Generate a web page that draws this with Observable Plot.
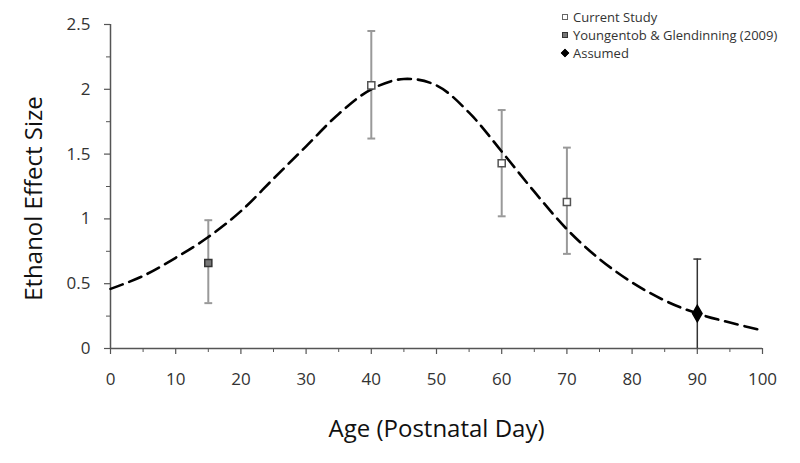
<!DOCTYPE html>
<html>
<head>
<meta charset="utf-8">
<script src="https://cdn.jsdelivr.net/npm/d3@7"></script>
<script src="https://cdn.jsdelivr.net/npm/@observablehq/plot@0.6"></script>
<style>
  html, body { margin: 0; padding: 0; background: #fff; }
  #wrap { position: relative; width: 800px; height: 463px; font-family: "Open Sans", "DejaVu Sans", sans-serif; }
  #legend { position: absolute; left: 562px; top: 8px; font-size: 13px; color: #333; line-height: 18px; }
  #legend .row { display: flex; align-items: center; white-space: nowrap; }
  #legend .sw { display: inline-block; width: 6px; height: 6px; margin-right: 5px; box-sizing: border-box; }
</style>
</head>
<body>
<div id="wrap">
  <div id="chart"></div>
  <div id="legend"></div>
</div>
<script>
// Series labels
const seriesNames = ["Current Study", "Youngentob & Glendinning (2009)", "Assumed"];

// Data points (age, effect size, lower/upper error)
const currentAge = [40, 60, 70];
const currentVal = [2.03, 1.43, 1.13];
const currentLo = [1.62, 1.02, 0.73];
const currentHi = [2.45, 1.84, 1.55];

const youngAge = [15];
const youngVal = [0.66];
const youngLo = [0.35];
const youngHi = [0.99];

const assumedAge = [90];
const assumedVal = [0.27];
const assumedLo = [0.0];
const assumedHi = [0.69];

// Dashed fitted curve
const curveAge = [0, 5, 10, 15, 20, 25, 30, 35, 40, 45, 50, 55, 60, 65, 70, 75, 80, 85, 90, 95, 100];
const curveVal = [0.46, 0.56, 0.70, 0.86, 1.06, 1.31, 1.56, 1.81, 2.00, 2.08, 2.03, 1.82, 1.52, 1.21, 0.92, 0.69, 0.51, 0.37, 0.27, 0.20, 0.14];

// Tick labels
const xTicks = [0, 10, 20, 30, 40, 50, 60, 70, 80, 90, 100];
const xMinor = [5, 15, 25, 35, 45, 55, 65, 75, 85, 95];
const yTicks = [0, 0.5, 1, 1.5, 2, 2.5];
const yMinor = [0.25, 0.75, 1.25, 1.75, 2.25];

const mk = (ages, vals, los, his, s) => ages.map((a, i) => ({age: a, val: vals[i], lo: los[i], hi: his[i], series: s}));
const current = mk(currentAge, currentVal, currentLo, currentHi, seriesNames[0]);
const young = mk(youngAge, youngVal, youngLo, youngHi, seriesNames[1]);
const assumed = mk(assumedAge, assumedVal, assumedLo, assumedHi, seriesNames[2]);
const allPts = [...current, ...young];
const curve = curveAge.map((a, i) => ({age: a, val: curveVal[i]}));

const capHalf = 0.6;
const axisColor = "#555";

const chart = Plot.plot({
  width: 800,
  height: 463,
  marginLeft: 110,
  marginRight: 38,
  marginTop: 24,
  marginBottom: 115,
  style: {fontFamily: "'Open Sans', 'DejaVu Sans', sans-serif", background: "#fff", color: "#333"},
  x: {domain: [0, 100]},
  y: {domain: [0, 2.5]},
  marks: [
    // axis lines
    Plot.ruleY([0], {stroke: axisColor, strokeWidth: 1.5}),
    Plot.ruleX([0], {stroke: axisColor, strokeWidth: 1.5}),
    // axes
    Plot.axisX({ticks: xTicks, tickSize: 6, tickPadding: 18, fontSize: 17, label: null, stroke: axisColor, strokeWidth: 1.2}),
    Plot.axisX({ticks: xMinor, tickSize: 4, text: null, label: null, stroke: axisColor, strokeWidth: 1}),
    Plot.axisY({ticks: yTicks, tickSize: 6, tickPadding: 14, fontSize: 17, label: null, tickFormat: d => String(d), stroke: axisColor, strokeWidth: 1.2}),
    Plot.axisY({ticks: yMinor, tickSize: 4, text: null, label: null, stroke: axisColor, strokeWidth: 1}),
    // axis titles
    Plot.text(["Ethanol Effect Size"], {frameAnchor: "left", textAnchor: "middle", dx: -76, dy: 12, rotate: -90, fontSize: 24, fill: "#111"}),
    Plot.text(["Age (Postnatal Day)"], {frameAnchor: "bottom", textAnchor: "middle", dy: 88, fontSize: 24, fill: "#111"}),
    // error bars
    Plot.ruleX(allPts, {x: "age", y1: "lo", y2: "hi", stroke: "#999", strokeWidth: 2}),
    Plot.link(allPts, {x1: d => d.age - capHalf, x2: d => d.age + capHalf, y1: "hi", y2: "hi", stroke: "#999", strokeWidth: 2}),
    Plot.link(allPts, {x1: d => d.age - capHalf, x2: d => d.age + capHalf, y1: "lo", y2: "lo", stroke: "#999", strokeWidth: 2}),
    Plot.ruleX(assumed, {x: "age", y1: "lo", y2: "hi", stroke: "#333", strokeWidth: 1.5}),
    Plot.link(assumed, {x1: d => d.age - capHalf, x2: d => d.age + capHalf, y1: "hi", y2: "hi", stroke: "#333", strokeWidth: 1.5}),
    // dashed curve
    Plot.line(curve, {x: "age", y: "val", curve: "catmull-rom", stroke: "#000", strokeWidth: 2.6, strokeDasharray: "13,7"}),
    // markers
    Plot.dot(current, {x: "age", y: "val", symbol: "square", r: 4, fill: "#fff", stroke: "#555", strokeWidth: 1.5}),
    Plot.dot(young, {x: "age", y: "val", symbol: "square", r: 4, fill: "#777", stroke: "#333", strokeWidth: 1.5}),
    Plot.dot(assumed, {x: "age", y: "val", symbol: "diamond", r: 5, fill: "#000", stroke: "#000"})
  ]
});
document.getElementById("chart").appendChild(chart);

// Legend
const legendStyles = [
  {bg: "#fff", border: "1.2px solid #666"},
  {bg: "#777", border: "1.2px solid #333"},
  {bg: "#000", border: "1.2px solid #000", diamond: true}
];
const legend = document.getElementById("legend");
seriesNames.forEach((name, i) => {
  const row = document.createElement("div");
  row.className = "row";
  const sw = document.createElement("span");
  sw.className = "sw";
  sw.style.background = legendStyles[i].bg;
  sw.style.border = legendStyles[i].border;
  if (legendStyles[i].diamond) sw.style.transform = "rotate(45deg)";
  row.appendChild(sw);
  const t = document.createElement("span");
  t.textContent = name;
  row.appendChild(t);
  legend.appendChild(row);
});
</script>
</body>
</html>
